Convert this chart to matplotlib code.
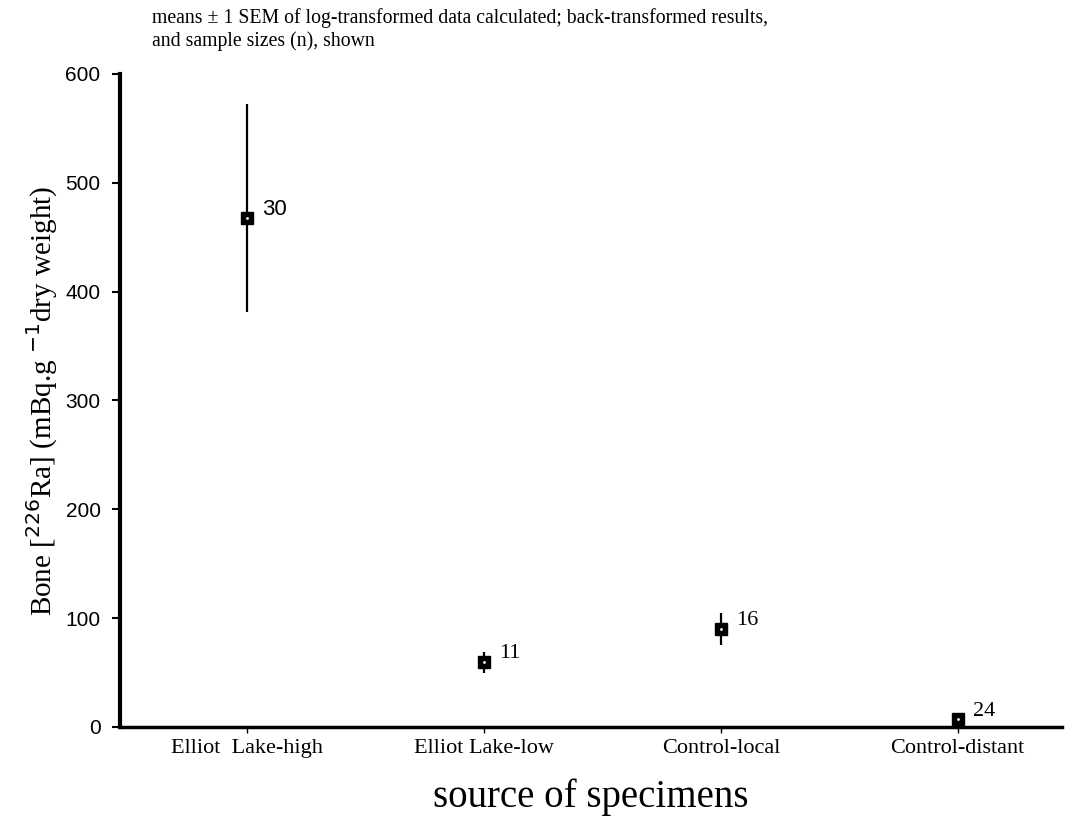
import matplotlib
matplotlib.use("Agg")
import matplotlib.pyplot as plt
import numpy as np

# ── data (back-transformed means +/- 1 SEM) ──
groups = ["Elliot  Lake-high", "Elliot Lake-low", "Control-local", "Control-distant"]
means = [468, 60, 90, 7]
lower = [381, 50, 75, 4]
upper = [572, 69, 105, 10]
n_sizes = [30, 11, 16, 24]

SERIF = "Liberation Serif"
SANS = "Liberation Sans"

fig = plt.figure(figsize=(10.74, 8.21), dpi=100)
ax = fig.add_axes([0.1117, 0.1145, 0.877, 0.7955])

x = np.arange(len(groups))
m = np.array(means)
yerr = np.vstack([m - np.array(lower), np.array(upper) - m])

ax.errorbar(x, m, yerr=yerr, fmt="s", color="black", ms=9, mfc="black",
            mec="black", elinewidth=1.6, capsize=0, zorder=3)
# little white fleck inside each marker, like the scan
ax.plot(x, m, ".", color="white", ms=2, zorder=4)

for xi, yi, n in zip(x, m, n_sizes):
    fam = SANS if n == 30 else SERIF
    ax.annotate(str(n), (xi, yi), xytext=(11, 6), textcoords="offset points",
                fontsize=16, family=fam, va="center", ha="left")

ax.set_xlim(-0.537, 3.44)
ax.set_ylim(0, 600)
ax.set_yticks([0, 100, 200, 300, 400, 500, 600])
ax.set_xticks(x)
ax.set_xticklabels(groups, family=SERIF, fontsize=16)
for lab in ax.get_yticklabels():
    lab.set_family(SANS)
    lab.set_fontsize(15)

ax.spines["top"].set_visible(False)
ax.spines["right"].set_visible(False)
ax.spines["left"].set_linewidth(3)
ax.spines["bottom"].set_linewidth(2.5)
ax.tick_params(axis="y", direction="out", length=6, width=1.5, pad=8)
ax.tick_params(axis="x", direction="out", length=4, width=1, pad=5)

ax.set_ylabel("Bone [$^{226}$Ra] (mBq.g $^{-1}$dry weight)", family=SERIF,
              fontsize=21, labelpad=4)
ax.set_xlabel("source of specimens", family=SERIF, fontsize=28, labelpad=14)

fig.text(0.1415, 0.990, "means \u00b1 1 SEM of log-transformed data calculated; back-transformed results,",
         family=SERIF, fontsize=14.2, va="top", ha="left")
fig.text(0.1415, 0.962, "and sample sizes (n), shown",
         family=SERIF, fontsize=14.2, va="top", ha="left")

fig.savefig("out.png", dpi=100, facecolor="white")
